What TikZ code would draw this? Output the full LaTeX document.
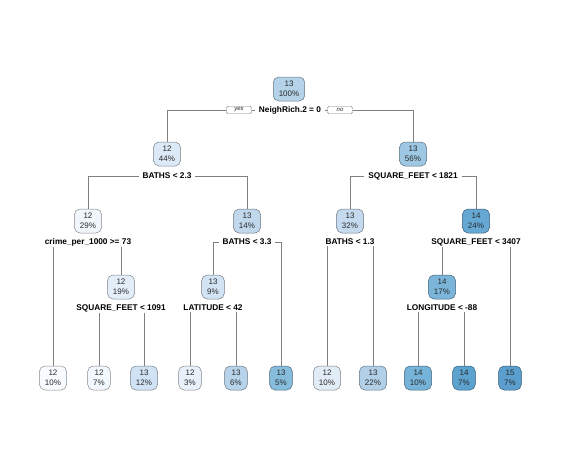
\documentclass[tikz,border=0pt]{standalone}
\usepackage{fontspec}
\setmainfont{Liberation Sans}
\usetikzlibrary{backgrounds}
\definecolor{linec}{HTML}{808080}
\definecolor{txtc}{HTML}{2A2A2A}
\tikzset{
  tn/.style={draw=#1!55!black, fill=#1, rounded corners=5.5pt, align=center,
     font=\fontsize{8}{10.2}\selectfont, text=txtc, inner xsep=5.5pt, inner ysep=2.6pt,
     minimum height=24pt, line width=0.5pt},
  sl/.style={fill=white, font=\fontsize{8.3}{10}\selectfont\bfseries, text=black,
     inner xsep=4pt, inner ysep=1pt},
  yn/.style={draw=linec, fill=white, rounded corners=1.5pt, font=\fontsize{6}{7}\selectfont\itshape,
     text=txtc, inner xsep=4pt, inner ysep=0.5pt, minimum width=25pt, minimum height=7.5pt},
  cn/.style={draw=linec, line width=0.65pt}
}
\begin{document}
\begin{tikzpicture}[x=1pt,y=-1pt]
\useasboundingbox (0,0) rectangle (565,469);
% colours
\definecolor{c1}{HTML}{B4D2E8}
\definecolor{c2}{HTML}{DCE9F6}
\definecolor{c3}{HTML}{9DC7E2}
\definecolor{c4}{HTML}{F0F6FC}
\definecolor{c5}{HTML}{C0D7EC}
\definecolor{c6}{HTML}{C5DAEE}
\definecolor{c7}{HTML}{64A8D3}
\definecolor{c8}{HTML}{E4EEF8}
\definecolor{c9}{HTML}{D2E3F3}
\definecolor{c10}{HTML}{7BB6DA}
\definecolor{d1}{HTML}{F7FBFF}
\definecolor{d2}{HTML}{F3F8FE}
\definecolor{d3}{HTML}{D0E2F3}
\definecolor{d4}{HTML}{E8F0F9}
\definecolor{d5}{HTML}{B7D3EA}
\definecolor{d6}{HTML}{86BCDC}
\definecolor{d7}{HTML}{E2ECF7}
\definecolor{d8}{HTML}{B1D0E8}
\definecolor{d9}{HTML}{76B3D9}
\definecolor{d10}{HTML}{5BA2CF}
\definecolor{d11}{HTML}{5A9FCD}
% split nodes
\node[tn=c1] (n1) at (289,89) {13\\100\%};
\node[tn=c2] (n2) at (167,154) {12\\44\%};
\node[tn=c3] (n3) at (413,154) {13\\56\%};
\node[tn=c4] (n4) at (88,221) {12\\29\%};
\node[tn=c5] (n5) at (247,221) {13\\14\%};
\node[tn=c6] (n6) at (350,221) {13\\32\%};
\node[tn=c7] (n7) at (476,221) {14\\24\%};
\node[tn=c8] (n8) at (121,287) {12\\19\%};
\node[tn=c9] (n9) at (213,287) {13\\9\%};
\node[tn=c10] (n10) at (442,287) {14\\17\%};
% leaves
\node[tn=d1] (l1) at (53,378) {12\\10\%};
\node[tn=d2] (l2) at (99,378) {12\\7\%};
\node[tn=d3] (l3) at (144,378) {13\\12\%};
\node[tn=d4] (l4) at (190,378) {12\\3\%};
\node[tn=d5] (l5) at (236,378) {13\\6\%};
\node[tn=d6] (l6) at (281,378) {13\\5\%};
\node[tn=d7] (l7) at (327,378) {12\\10\%};
\node[tn=d8] (l8) at (373,378) {13\\22\%};
\node[tn=d9] (l9) at (418,378) {14\\10\%};
\node[tn=d10] (l10) at (464,378) {14\\7\%};
\node[tn=d11] (l11) at (510,378) {15\\7\%};
% split labels
\node[sl] (s1) at (290,110) {NeighRich.2 = 0};
\node[sl] (s2) at (167,176) {BATHS < 2.3};
\node[sl] (s3) at (413,176) {SQUARE\_FEET < 1821};
\node[sl] (s4) at (88,242) {crime\_per\_1000 >= 73};
\node[sl] (s5) at (247,242) {BATHS < 3.3};
\node[sl] (s6) at (350,242) {BATHS < 1.3};
\node[sl] (s7) at (476,242) {SQUARE\_FEET < 3407};
\node[sl] (s8) at (121,308) {SQUARE\_FEET < 1091};
\node[sl] (s9) at (213,308) {LATITUDE < 42};
\node[sl] (s10) at (442,308) {LONGITUDE < -88};
% yes / no
\node[yn] (yes) at (239,110) {yes};
\node[yn] (no) at (340,110) {no};
\begin{scope}[on background layer]
\draw[cn] (s1.center) -| (n2.north);
\draw[cn] (s1.center) -| (n3.north);
\draw[cn] (s2.center) -| (n4.north);
\draw[cn] (s2.center) -| (n5.north);
\draw[cn] (s3.center) -| (n6.north);
\draw[cn] (s3.center) -| (n7.north);
\draw[cn] (s4.center) -| (l1.north);
\draw[cn] (s4.center) -| (n8.north);
\draw[cn] (s5.center) -| (n9.north);
\draw[cn] (s5.center) -| (l6.north);
\draw[cn] (s6.center) -| (l7.north);
\draw[cn] (s6.center) -| (l8.north);
\draw[cn] (s7.center) -| (n10.north);
\draw[cn] (s7.center) -| (l11.north);
\draw[cn] (s8.center) -| (l2.north);
\draw[cn] (s8.center) -| (l3.north);
\draw[cn] (s9.center) -| (l4.north);
\draw[cn] (s9.center) -| (l5.north);
\draw[cn] (s10.center) -| (l9.north);
\draw[cn] (s10.center) -| (l10.north);
\end{scope}
\end{tikzpicture}
\end{document}
